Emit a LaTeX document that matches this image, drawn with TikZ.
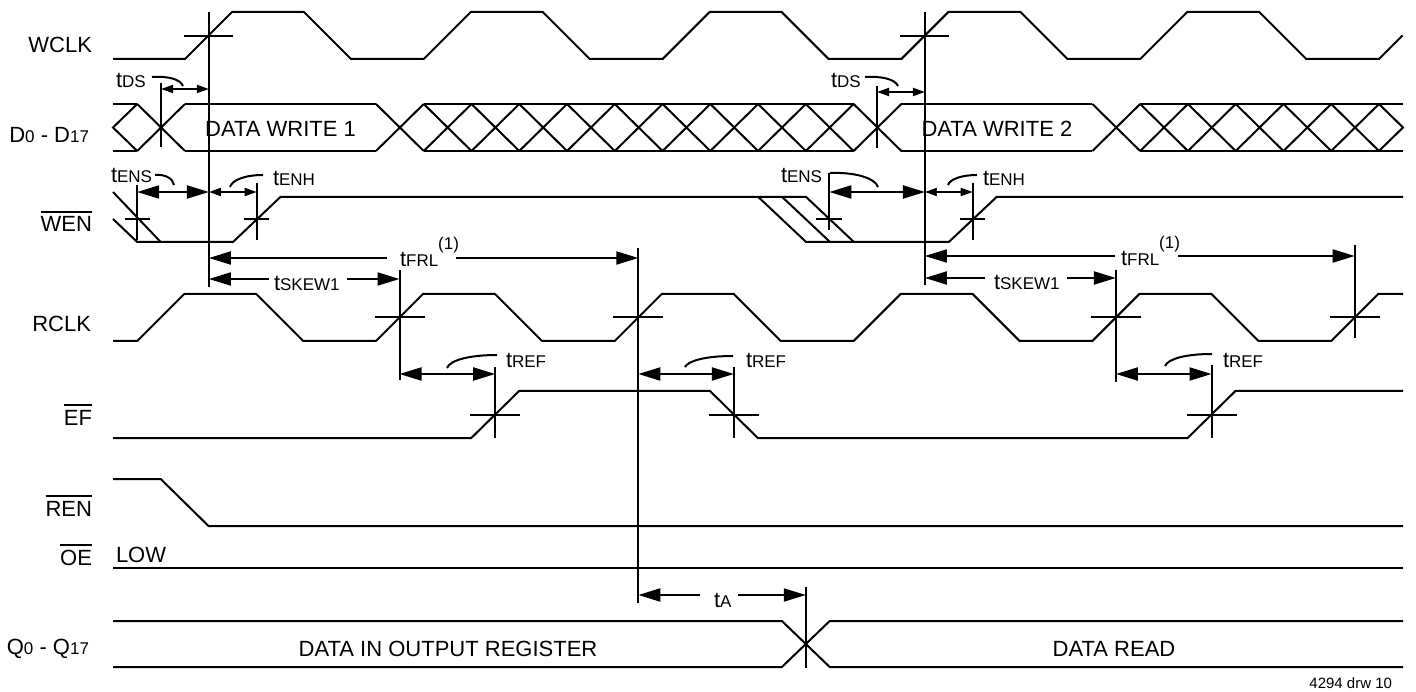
\documentclass[tikz,border=0pt]{standalone}
\usepackage{fontspec}
\setmainfont{Liberation Sans}
\usetikzlibrary{arrows.meta}
\newcommand\subt[1]{{\fontsize{17}{20}\selectfont #1}}
\newcommand\ovl[1]{\setbox0\hbox{#1}\rlap{\rule[\dimexpr\ht0+4pt\relax]{\wd0}{1.8pt}}\box0}
\begin{document}
\begin{tikzpicture}[x=1pt,y=-1pt,line width=2pt,
  lbl/.style={inner sep=0pt,font=\fontsize{22}{26}\selectfont},
  tl/.style={inner sep=0pt,anchor=base west,font=\fontsize{22}{26}\selectfont},
  BA/.style={{Triangle[length=22pt,width=13pt]}-{Triangle[length=22pt,width=13pt]}},
  BL/.style={{Triangle[length=22pt,width=13pt]}-},
  BR/.style={-{Triangle[length=22pt,width=13pt]}},
  SA/.style={{Triangle[length=12pt,width=8pt]}-{Triangle[length=12pt,width=8pt]}},
  ldr/.style={line width=2pt}]
\useasboundingbox (0,0) rectangle (1416,692);

% signal names
\node[lbl,anchor=base east] (wclk) at (93,53) {WCLK};
\node[lbl,anchor=base east] (dbus) at (90,143) {D\subt{0} - D\subt{17}};
\node[lbl,anchor=base east] (wen) at (93,232) {\ovl{WEN}};
\node[lbl,anchor=base east] (rclk) at (92,332) {RCLK};
\node[lbl,anchor=base east] (ef) at (93,425) {\ovl{EF}};
\node[lbl,anchor=base east] (ren) at (93,516) {\ovl{REN}};
\node[lbl,anchor=base east] (oe) at (93,565) {\ovl{OE}};
\node[lbl,anchor=base east] (qbus) at (90,654) {Q\subt{0} - Q\subt{17}};
\node[lbl,anchor=base west] (low) at (115,562) {LOW};

% WCLK
\draw (113,59) \foreach \k in {0,...,4}{ -- ({185+\k*238.8},59) -- ({232+\k*238.8},12) -- ({304+\k*238.8},12) -- ({351+\k*238.8},59)} -- (1379,59) -- (1402.5,35.5);

% RCLK
\draw (113,341) \foreach \k in {0,...,4}{ -- ({137.2+\k*238.8},341) -- ({184.2+\k*238.8},294) -- ({256.2+\k*238.8},294) -- ({303.2+\k*238.8},341)} -- (1331.2,341) -- (1378.2,294) -- (1403,294);

% D bus
\foreach \i in {0,5,6,7,8,9,10,11,12,13,14,15,20,21,22,23,24,25}
  \draw ({137.2+\i*47.76},104) -- ({184.96+\i*47.76},151) ({137.2+\i*47.76},151) -- ({184.96+\i*47.76},104);
\draw (113,104) -- (137.2,104) (113,151) -- (137.2,151);
\draw (137.2,104) -- (113,127.5) -- (137.2,151);
\draw (184.96,104) -- (376,104) (184.96,151) -- (376,151);
\draw (423.76,104) -- (853.6,104) (423.76,151) -- (853.6,151);
\draw (901.36,104) -- (1092.4,104) (901.36,151) -- (1092.4,151);
\draw (1140.16,104) -- (1403,104) (1140.16,151) -- (1403,151);
\draw (1378.96,104) -- (1403,127.5) -- (1378.96,151);
\node[lbl,anchor=base] (dw1) at (280.5,137) {DATA WRITE 1};
\node[lbl,anchor=base] (dw2) at (996.9,137) {DATA WRITE 2};

% WEN
\draw (113,192) -- (160.7,242);
\draw (113,219) -- (137.2,242) -- (233,242) -- (280.4,197) -- (806.1,197) -- (853.9,242);
\draw (758.3,197) -- (806.1,242) -- (948.8,242) -- (996.6,197) -- (1403,197);
\draw (782.2,197) -- (830,242);

% EF
\draw (113,438) -- (471.3,438) -- (519.1,391) -- (710,391) -- (757.8,438) -- (1187.6,438) -- (1235.4,391) -- (1403,391);

% REN, OE
\draw (113,479) -- (160.7,479) -- (208.5,526) -- (1403,526);
\draw (113,568) -- (1403,568);

% Q bus
\draw (113,621) -- (781.9,621) -- (829.7,667) -- (1403,667);
\draw (113,667) -- (781.9,667) -- (829.7,621) -- (1403,621);
\node[lbl,anchor=base] (dout) at (448,656) {DATA IN OUTPUT REGISTER};
\node[lbl,anchor=base] (dread) at (1114,656) {DATA READ};

% verticals
\draw (208.9,12) -- (208.9,287);
\draw (924.9,12) -- (924.9,285);
\draw (161.1,83) -- (161.1,147);
\draw (877.1,86) -- (877.1,148);
\draw (137.2,185) -- (137.2,240);
\draw (256.7,183) -- (256.7,240);
\draw (829.3,173) -- (829.3,230);
\draw (972.7,183) -- (972.7,240);
\draw (399.5,270) -- (399.5,380);
\draw (638.3,248) -- (638.3,603);
\draw (1115.9,270) -- (1115.9,382);
\draw (1354.7,245) -- (1354.7,338);
\draw (495.2,367) -- (495.2,438);
\draw (733.9,367) -- (733.9,438);
\draw (1211.5,365) -- (1211.5,438);
\draw (805.8,587) -- (805.8,668);

% crossing ticks
\draw (184.4,36) -- (233.4,36) (900.4,36) -- (949.4,36);
\draw (124.7,219.5) -- (149.7,219.5) (244.2,219.5) -- (269.2,219.5)
      (816.3,219.5) -- (842.3,219.5) (960.2,219.5) -- (985.2,219.5);
\draw (374.5,317.5) -- (424.5,317.5) (613.3,317.5) -- (663.3,317.5)
      (1090.9,317.5) -- (1140.9,317.5) (1329.7,317.5) -- (1379.7,317.5);
\draw (470.2,414.5) -- (520.2,414.5) (708.9,414.5) -- (758.9,414.5)
      (1186.5,414.5) -- (1236.5,414.5);

% timing arrows
\draw[SA] (161.1,89) -- (208.9,89);
\draw[SA] (877.1,92) -- (924.9,92);
\draw[BA] (137.2,192) -- (208.9,192);
\draw[SA] (208.9,192) -- (256.7,192);
\draw[BA] (829.3,192) -- (924.9,192);
\draw[SA] (924.9,192) -- (972.7,192);
\draw[BL] (208.9,258) -- (387,258); \draw[BR] (456,258) -- (638.3,258);
\draw[BL] (208.9,279) -- (269,279); \draw[BR] (347,279) -- (399.5,279);
\draw[BL] (924.9,256) -- (1115,256); \draw[BR] (1178,256) -- (1354.7,256);
\draw[BL] (924.9,278) -- (985,278); \draw[BR] (1067,278) -- (1115.9,278);
\draw[BA] (399.5,374) -- (495.2,374);
\draw[BA] (638.3,374) -- (733.9,374);
\draw[BA] (1115.9,374) -- (1211.5,374);
\draw[BL] (638.3,595) -- (700,595); \draw[BR] (738,595) -- (805.8,595);

% timing labels
\node[tl] (tds1) at (115,88) {t\subt{DS}};
\node[tl] (tds2) at (830,88) {t\subt{DS}};
\node[tl] (tens1) at (110,183) {t\subt{ENS}};
\node[tl] (tenh1) at (272,186) {t\subt{ENH}};
\node[tl] (tens2) at (780,183) {t\subt{ENS}};
\node[tl] (tenh2) at (982,186) {t\subt{ENH}};
\node[tl] (tfrl1) at (399,267) {t\subt{FRL}\raisebox{17pt}{\subt{(1)}}};
\node[tl] (tfrl2) at (1120,266) {t\subt{FRL}\raisebox{17pt}{\subt{(1)}}};
\node[tl] (tsk1) at (273,291) {t\subt{SKEW1}};
\node[tl] (tsk2) at (993,290) {t\subt{SKEW1}};
\node[tl] (tref1) at (505,367) {t\subt{REF}};
\node[tl] (tref2) at (745,367) {t\subt{REF}};
\node[tl] (tref3) at (1222,367) {t\subt{REF}};
\node[tl] (ta) at (713,607) {t\subt{A}};
\node[anchor=base east,inner sep=0pt,font=\fontsize{15}{18}\selectfont] (drw) at (1393,688) {4294 drw 10};

% leaders
\draw[ldr] (152,77) .. controls (168,76) and (180,79) .. (183,86);
\draw[ldr] (865,77) .. controls (881,76) and (895,79) .. (898,86);
\draw[ldr] (155,175) .. controls (166,174) and (173,179) .. (174,185);
\draw[ldr] (830,173) .. controls (855,172) and (875,178) .. (878,187);
\draw[ldr] (263,175) .. controls (245,175) and (232,180) .. (230,187);
\draw[ldr] (977,175) .. controls (962,175) and (950,179) .. (948,185);
\draw[ldr] (497,355) .. controls (470,355) and (450,360) .. (447,368);
\draw[ldr] (733,356) .. controls (705,356) and (688,361) .. (685,367);
\draw[ldr] (1212,354) .. controls (1185,354) and (1168,359) .. (1165,366);
\end{tikzpicture}
\end{document}
